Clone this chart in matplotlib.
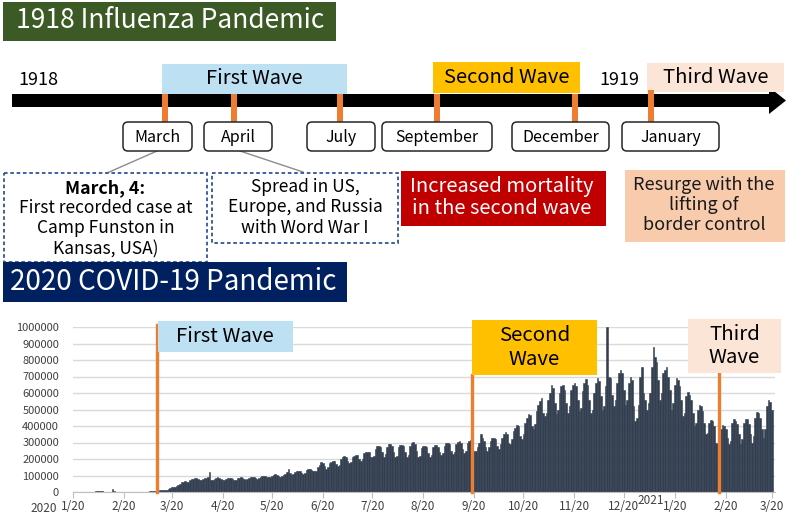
import matplotlib
matplotlib.use("Agg")
import matplotlib.pyplot as plt
from matplotlib.patches import Rectangle, FancyBboxPatch, Polygon
import pandas as pd

plt.rcParams['font.family'] = ['Noto Sans CJK TC', 'DejaVu Sans']

# ---------------- data ----------------
# daily new COVID-19 cases (thousands), by month
jan20 = [0.1, 0.1, 0.2, 0.3, 0.6, 0.7, 0.8, 1.8, 1.5, 1.7, 2.0, 2.1]
feb20 = [2.6, 2.8, 3.2, 3.9, 3.7, 3.2, 3.4, 2.7, 3.0, 2.5, 2.1, 2.0, 15.2, 5.1, 2.6, 2.1,
         1.9, 1.8, 0.6, 0.9, 0.6, 0.6, 1.2, 0.6, 0.8, 0.9, 1.1, 1.4, 1.8]
mar20 = [1.7, 1.9, 2.0, 2.2, 2.3, 2.8, 3.6, 3.9, 4.0, 4.5, 7.0, 7.5, 9.5, 10.9, 11.5,
         13, 15, 18, 22, 28, 30, 32, 38, 42, 48, 58, 62, 65, 62, 62, 70]
apr20 = [78, 80, 82, 85, 80, 72, 75, 80, 85, 86, 88, 120, 75, 72, 78, 85, 88, 86, 80,
         72, 74, 80, 82, 86, 84, 78, 70, 74, 82, 86]
may20 = [88, 86, 80, 74, 76, 85, 90, 92, 90, 84, 80, 82, 90, 94, 98, 96, 90,
         88, 92, 100, 104, 108, 106, 100, 92, 96, 106, 112, 120, 140, 118]
jun20 = [105, 110, 122, 126, 130, 128, 118, 112, 118, 135, 140, 138, 136, 126,
         125, 130, 150, 165, 180, 175, 160, 140, 150, 175, 180, 190, 188, 170, 160, 165]
jul20 = [200, 215, 220, 210, 190, 175, 180, 210, 220, 225, 222, 200, 190, 200, 235, 245,
         245, 240, 215, 210, 220, 260, 280, 280, 270, 240, 215, 230, 275, 290, 290]
aug20 = [280, 245, 210, 220, 270, 285, 285, 280, 240, 215, 225, 280, 300, 305, 290, 250,
         210, 220, 265, 280, 280, 270, 235, 215, 225, 270, 285, 285, 275, 240, 225]
sep20 = [235, 280, 295, 300, 290, 250, 230, 240, 290, 305, 310, 300, 260, 235, 250, 295,
         310, 315, 300, 250, 250, 270, 300, 350, 330, 310, 270, 250, 270, 310]
oct20 = [330, 325, 320, 280, 260, 290, 330, 350, 365, 350, 300, 290, 320, 370, 390, 405,
         400, 340, 320, 350, 420, 450, 470, 465, 400, 380, 410, 490, 530, 550, 570]
nov20 = [480, 460, 480, 560, 600, 650, 630, 540, 470, 500, 600, 640, 650, 620, 540,
         480, 520, 620, 650, 660, 640, 560, 490, 510, 610, 660, 685, 650, 560, 480]
dec20 = [500, 600, 660, 690, 670, 580, 500, 520, 640, 1000, 700, 690, 590, 520, 560, 660,
         720, 740, 720, 620, 530, 560, 660, 700, 680, 520, 430, 450, 530, 700, 760]
jan21 = [600, 560, 500, 540, 600, 760, 880, 820, 790, 680, 560, 600, 720, 740, 760, 700,
         620, 500, 540, 650, 690, 680, 640, 560, 460, 480, 580, 605, 590, 560, 480]
feb21 = [400, 420, 500, 525, 520, 490, 420, 350, 360, 420, 435, 430, 400, 300,
         290, 310, 380, 405, 400, 380, 330, 290, 310, 420, 440, 430, 410, 350]
mar21 = [290, 320, 420, 440, 440, 410, 350, 300, 340, 450, 485, 480, 450, 380,
         330, 380, 520, 555, 545, 500]

series_start = "2020-01-20"
wave_dates = ["2020-03-11", "2020-09-19", "2021-02-16"]
wave_labels = ["First Wave", "Second\nWave", "Third\nWave"]
x_tick_labels = ["1/20", "2/20", "3/20", "4/20", "5/20", "6/20", "7/20", "8/20",
                 "9/20", "10/20", "11/20", "12/20", "1/20", "2/20", "3/20"]
y_ticks = [0, 100000, 200000, 300000, 400000, 500000, 600000, 700000, 800000, 900000, 1000000]

months_1918 = ["March", "April", "July", "September", "December", "January"]
waves_1918 = ["First Wave", "Second Wave", "Third Wave"]

# ---------------- figure ----------------
W, H = 789, 515
fig = plt.figure(figsize=(W / 100, H / 100), dpi=100)

cases = []
for m in [jan20, feb20, mar20, apr20, may20, jun20, jul20, aug20, sep20, oct20,
          nov20, dec20, jan21, feb21, mar21]:
    cases.extend(v * 1000 for v in m)
dates = pd.date_range(series_start, periods=len(cases), freq="D")

# chart axes (pixels: x 73..775, y 327..492)
ax = fig.add_axes([73 / W, (H - 492) / H, 702 / W, 165 / H])
ax.bar(dates, cases, width=1.0, color="#333f50", edgecolor="#333f50", linewidth=0.4, zorder=2)
tick_dates = pd.date_range("2020-01-01", periods=len(x_tick_labels), freq="MS") + pd.Timedelta(days=19)
ax.set_xticks(tick_dates)
ax.set_xticklabels(x_tick_labels)
ax.set_ylim(0, 1000000)
ax.set_xlim(pd.Timestamp(series_start), pd.Timestamp(series_start) + pd.Timedelta(days=427))
ax.set_yticks(y_ticks)
ax.set_yticklabels([str(v) for v in y_ticks])
ax.yaxis.grid(True, color="#d9d9d9", lw=1, zorder=0)
ax.set_axisbelow(True)
for s in ["top", "right", "left"]:
    ax.spines[s].set_visible(False)
ax.spines["bottom"].set_color("#bfbfbf")
ax.tick_params(axis="y", length=0, pad=10, labelsize=8, labelcolor="#404040")
ax.tick_params(axis="x", length=4, color="#bfbfbf", pad=2, labelsize=8.5, labelcolor="#404040")
ax.patch.set_alpha(0)

wave_tops = [1.01, 0.709, 0.721]
for d, top in zip(wave_dates, wave_tops):
    ax.axvline(pd.Timestamp(d), ymin=0, ymax=top, color="#ed7d31", lw=2.4, clip_on=False, zorder=3)

# overlay axes in pixel coordinates
ov = fig.add_axes([0, 0, 1, 1], zorder=5)
ov.set_xlim(0, W)
ov.set_ylim(H, 0)
ov.axis("off")
ov.patch.set_alpha(0)


def rect(x0, y0, x1, y1, fc, ec="none", lw=0, ls="-", z=2):
    ov.add_patch(Rectangle((x0, y0), x1 - x0, y1 - y0, facecolor=fc, edgecolor=ec,
                           lw=lw, ls=ls, zorder=z))


def rbox(x0, y0, x1, y1):
    ov.add_patch(FancyBboxPatch((x0, y0), x1 - x0, y1 - y0,
                                boxstyle="round,pad=0,rounding_size=5",
                                facecolor="white", edgecolor="#262626", lw=1.1, zorder=3))


def txt(x, y, s, size, color="black", weight="normal", ls=1.2, z=6):
    ov.text(x, y, s, ha="center", va="center", fontsize=size, color=color,
            fontweight=weight, linespacing=ls, zorder=z)


# Title 1918
rect(3, 2, 336, 41, "#3b5a25")
txt(170, 21, "1918 Influenza Pandemic", 19, "white")

# timeline arrow
rect(12, 94, 771, 107, "black", z=2)
ov.add_patch(Polygon([[769, 87], [786, 100.5], [769, 114]], closed=True,
                     facecolor="black", edgecolor="none", zorder=2))
txt(38, 80, "1918", 13)
txt(619, 80, "1919", 13)

# wave boxes (top)
rect(162, 64, 347, 94, "#bde0f3")
txt(254.5, 79, waves_1918[0], 14.5)
rect(433, 62, 580, 93, "#ffc000")
txt(506.5, 77.5, waves_1918[1], 14.5)
rect(647, 63, 784, 92, "#fbe5d6")
txt(715.5, 77.5, waves_1918[2], 14.5)

# orange ticks + month boxes
tick_x = [165, 234, 340, 437, 575, 651]
tick_top = [94, 94, 94, 94, 94, 90]
box_x = [(123, 192), (204, 272), (307, 375), (382, 492), (512, 609), (622, 719)]
for tx, tt in zip(tick_x, tick_top):
    rect(tx - 3, tt, tx + 3, 123, "#ed7d31", z=2.5)
for (bx0, bx1), name in zip(box_x, months_1918):
    rbox(bx0, 122, bx1, 151)
    txt((bx0 + bx1) / 2, 137, name, 11.5)

# connectors
ov.plot([157, 107], [151, 173], color="#8c8c8c", lw=1, zorder=2)
ov.plot([240, 303], [151, 172], color="#8c8c8c", lw=1, zorder=2)

# dashed info boxes
rect(4, 173, 207, 262, "white", ec="#2f5597", lw=1.3, ls=(0, (2, 1.5)), z=3)
txt(105.5, 188, "March, 4:", 12.8, weight="semibold")
txt(105.5, 228.5, "First recorded case at\nCamp Funston in\nKansas, USA)", 12.5, ls=1.18)
rect(212, 173, 398, 243, "white", ec="#2f5597", lw=1.3, ls=(0, (2, 1.5)), z=3)
txt(305, 207.5, "Spread in US,\nEurope, and Russia\nwith Word War I", 12.5, ls=1.18)

# red box
rect(401, 171, 606, 226, "#c00000")
txt(502, 197.5, "Increased mortality\nin the second wave", 14.5, "white", ls=1.07)

# peach box
rect(625, 170, 785, 242, "#f8cbad")
txt(704, 205, "Resurge with the\nlifting of\nborder control", 13, "#1a1a1a", ls=1.12)

# Title 2020
rect(3, 262, 347, 302, "#002060", z=4)
txt(173, 282, "2020 COVID-19 Pandemic", 20, "white")

# chart wave boxes
rect(158, 321, 293, 352, "#bde0f3")
txt(225, 336.5, wave_labels[0], 14.7)
rect(472, 320, 597, 375, "#ffc000")
txt(534.5, 347.5, wave_labels[1], 14.7, ls=1.18)
rect(688, 319, 781, 373, "#fbe5d6")
txt(734.5, 346, wave_labels[2], 14.7, ls=1.18)

# year labels on axis
txt(44, 508, "2020", 8.5, "#404040")
txt(651, 500, "2021", 8.5, "#404040")

fig.savefig("out.png", dpi=100)
